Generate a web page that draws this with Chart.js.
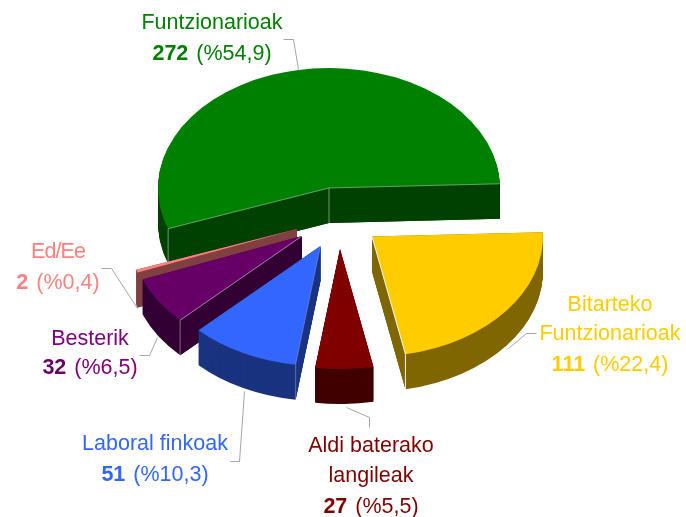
<!DOCTYPE html>
<html>
<head>
<meta charset="utf-8">
<style>html,body{margin:0;padding:0;background:#fff}canvas{display:block}</style>
<script src="https://cdn.jsdelivr.net/npm/chart.js@4"></script>
</head>
<body>
<canvas id="c" width="686" height="517"></canvas>
<script>
const categories = ['Bitarteko Funtzionarioak', 'Aldi baterako langileak', 'Laboral finkoak', 'Besterik', 'Ed/Ee', 'Funtzionarioak'];
const values = [111, 27, 51, 32, 2, 272];
const percents = ['%22,4', '%5,5', '%10,3', '%6,5', '%0,4', '%54,9'];
const topColors = ['#FFCC00', '#800000', '#3366FF', '#660066', '#FF8080', '#008000'];
const sideColors = ['#806600', '#400000', '#1A3380', '#330033', '#804040', '#004000'];
const textColors = ['#FFCC00', '#800000', '#3366FF', '#800080', '#FF8080', '#008000'];

// Drawing style (not data)
const RADIUS = 171, SQUASH = 0.702, DEPTH = 35;
const apexes = [[372,236.5],[340,249],[320.5,246],[302,236],[297,229],[329,188]];
const drawOrder = [5,4,3,2,1,0];
const lightEdges = [
  {end:'rgba(255,255,255,.95)', vEnd:'rgba(255,255,255,.9)'},
  {},
  {start:'rgba(255,255,255,.2)', vStart:'rgba(255,255,255,.3)'},
  {start:'rgba(255,255,255,.5)', vStart:'rgba(255,255,255,.4)'},
  {},
  {start:'rgba(255,255,255,.4)', vStart:'rgba(255,255,255,.45)', end:'rgba(255,255,255,.4)', apex:'rgba(255,255,255,.45)'}
];
const labelLines = [
  {lines:['Bitarteko','Funtzionarioak'], x:610, y:[311,340,371]},
  {lines:['Aldi baterako','langileak'], x:371, y:[452,482,513]},
  {lines:['Laboral finkoak'], x:155, y:[450,481]},
  {lines:['Besterik'], x:90, y:[345,374]},
  {lines:['Ed/Ee'], x:58, y:[258,289], tight:true},
  {lines:['Funtzionarioak'], x:212, y:[29,60]}
];
const leaders = [
  [[536,333],[526,333],[508,348]],
  [[346,407],[369,417],[369,427]],
  [[244,391],[239,461],[230,461]],
  [[157,337],[149,355],[139,355]],
  [[101,268],[111,268],[137,308]],
  [[283,39],[293,39],[298,69]]
];
const FONT = '"Liberation Sans", Arial, sans-serif', FONT_SIZE = 21.5, VALUE_GAP = 2;

const pie3d = {
  id: 'pie3d',
  beforeDatasetsDraw(chart) {
    const ctx = chart.ctx;
    const arcs = chart.getDatasetMeta(0).data;
    ctx.save();
    ctx.lineJoin = 'round';
    ctx.lineWidth = 1;
    ctx.strokeStyle = '#a6a6a6';
    leaders.forEach(pts => {
      ctx.beginPath();
      pts.forEach((p, i) => i ? ctx.lineTo(p[0] + .5, p[1] + .5) : ctx.moveTo(p[0] + .5, p[1] + .5));
      ctx.stroke();
    });
    ctx.restore();
    drawOrder.forEach(i => {
      const el = arcs[i];
      const [ax, ay] = apexes[i];
      const base = el.options;
      const place = (dy) => {
        ctx.translate(ax, ay + dy);
        ctx.scale(1, SQUASH);
        ctx.translate(-el.x, -el.y);
      };
      const pt = a => [ax + RADIUS * Math.cos(a), ay + RADIUS * SQUASH * Math.sin(a)];
      const s = pt(el.startAngle), t = pt(el.endAngle);

      const side = Object.create(base);
      side.backgroundColor = sideColors[i];
      el.options = side;
      for (let d = DEPTH; d >= 1; d--) {
        ctx.save(); place(d); el.draw(ctx); ctx.restore();
      }
      el.options = base;
      // solid radial walls, swept from the arc element's own edges
      ctx.save();
      ctx.fillStyle = sideColors[i];
      [s, t].forEach(p => {
        ctx.beginPath();
        ctx.moveTo(ax, ay);
        ctx.lineTo(p[0], p[1]);
        ctx.lineTo(p[0], p[1] + DEPTH);
        ctx.lineTo(ax, ay + DEPTH);
        ctx.closePath();
        ctx.fill();
      });
      ctx.restore();
      ctx.save(); place(0); el.draw(ctx); ctx.restore();

      const line = (p, q, col) => {
        if (!col) return;
        ctx.save();
        ctx.strokeStyle = col; ctx.lineWidth = 1;
        ctx.beginPath(); ctx.moveTo(p[0], p[1]); ctx.lineTo(q[0], q[1]); ctx.stroke();
        ctx.restore();
      };
      const e = lightEdges[i];
      line([ax, ay], s, e.start);
      line([ax, ay], t, e.end);
      line(s, [s[0], s[1] + DEPTH], e.vStart);
      line(t, [t[0], t[1] + DEPTH], e.vEnd);
      line([ax, ay], [ax, ay + DEPTH], e.apex);
    });
    return false;
  },
  afterDraw(chart) {
    const ctx = chart.ctx;
    ctx.save();
    ctx.textBaseline = 'alphabetic';
    ctx.textAlign = 'left';
    labelLines.forEach((lab, i) => {
      ctx.fillStyle = textColors[i];
      lab.lines.forEach((txt, k) => {
        ctx.font = FONT_SIZE + 'px ' + FONT;
        ctx.letterSpacing = lab.tight ? '-0.9px' : '0px';
        ctx.fillText(txt, lab.x - ctx.measureText(txt).width / 2, lab.y[k]);
        ctx.letterSpacing = '0px';
      });
      const yy = lab.y[lab.lines.length];
      const bold = String(values[i]), rest = ' (' + percents[i] + ')';
      ctx.font = 'bold ' + FONT_SIZE + 'px ' + FONT;
      const bw = ctx.measureText(bold).width + VALUE_GAP;
      ctx.font = FONT_SIZE + 'px ' + FONT;
      const rw = ctx.measureText(rest).width;
      const x0 = lab.x - (bw + rw) / 2;
      ctx.font = 'bold ' + FONT_SIZE + 'px ' + FONT;
      ctx.fillStyle = topColors[i];
      ctx.fillText(bold, x0, yy);
      ctx.font = FONT_SIZE + 'px ' + FONT;
      ctx.fillStyle = textColors[i];
      ctx.fillText(rest, x0 + bw, yy);
    });
    ctx.restore();
  }
};

new Chart(document.getElementById('c'), {
  type: 'pie',
  data: {
    labels: categories,
    datasets: [{ data: values, backgroundColor: topColors, borderWidth: 0, radius: RADIUS }]
  },
  options: {
    responsive: false,
    animation: false,
    rotation: 88,
    plugins: { legend: { display: false }, tooltip: { enabled: false } }
  },
  plugins: [pie3d]
});
</script>
</body>
</html>
